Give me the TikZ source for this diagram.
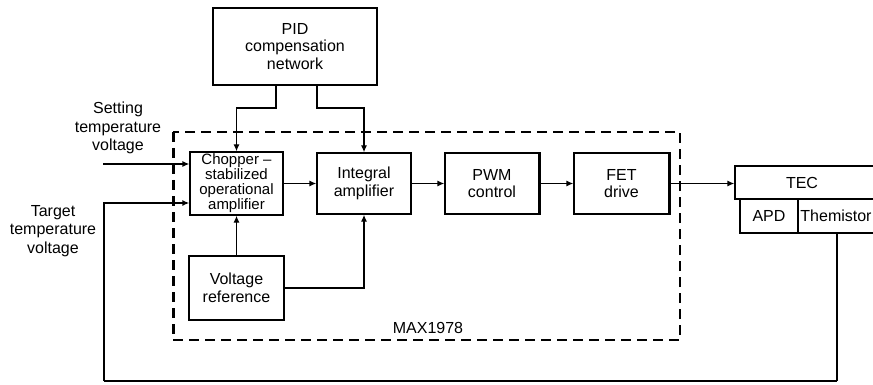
\documentclass[tikz,border=0pt]{standalone}
\usepackage{fontspec}
\setmainfont{Liberation Sans}
\usetikzlibrary{arrows.meta}
\begin{document}
\begin{tikzpicture}[x=1pt,y=-1pt,
  blk/.style={draw, line width=1.3pt, align=center, inner sep=0pt, font=\fontsize{16}{17.5}\selectfont},
  lbl/.style={align=center, inner sep=0pt, font=\fontsize{16}{18.5}\selectfont},
  arr/.style={line width=1.3pt, -{Latex[length=7pt,width=6pt]}},
  wire/.style={line width=1.3pt},
  thick wire/.style={line width=2.4pt},
  dashbox/.style={line width=2pt, dash pattern=on 10pt off 6pt}
]
\useasboundingbox (0,0) rectangle (873,385);
\clip (0,0) rectangle (873,385);
% blocks
\node[blk, minimum width=164pt, minimum height=77pt] (pid) at (295,46.5) {PID\\compensation\\network};
\node[blk, minimum width=93pt, minimum height=63pt, font=\fontsize{15}{15}\selectfont] (chop) at (236.5,183.5) {Chopper –\\stabilized\\operational\\amplifier};
\node[blk, minimum width=94pt, minimum height=61pt] (integ) at (364,183.5) {Integral\\amplifier};
\node[blk, minimum width=94pt, minimum height=61pt] (pwm) at (492,183.5) {PWM\\control};
\node[blk, minimum width=95pt, minimum height=61pt] (fet) at (621.5,183.5) {FET\\drive};
\node[blk, line width=2.4pt, minimum width=95pt, minimum height=64pt] (vref) at (236.5,288) {Voltage\\reference};
\draw[line width=2.4pt] (pwm.north east) -- (pwm.south east);
\draw[line width=2.4pt] (fet.north east) -- (fet.south east);
\node[blk, minimum width=142pt, minimum height=33pt] (tec) at (806,182.5) {};
\node[lbl] (teclbl) at (802,182.5) {TEC};
\node[blk, minimum width=58pt, minimum height=34pt] (apd) at (769,216) {APD};
\node[blk, minimum width=79pt, minimum height=34pt] (therm) at (837.5,216) {};
\node[lbl] (thermlbl) at (836,216) {Themistor};
% dashed MAX1978 box
\coordinate (dA) at (173,132);
\coordinate (dB) at (680,340);
\draw[dashbox] (dA) rectangle (dB);
\draw[dashbox, line width=3pt] (dA) -- (dA |- dB);
\node[lbl] (max) at (428,328) {MAX1978};
% outside labels
\node[lbl] (setlbl) at (118,128) {Setting\\temperature\\voltage};
\node[lbl] (tgtlbl) at (53,231) {Target\\temperature\\voltage};
% PID connections
\coordinate (p1) at (276,85);
\coordinate (p2) at (317,85);
\draw[arr] (p1) -- (276,108) -| (chop.north);
\draw[arr] (p2) -- (317,108) -| (integ.north);
% setting input
\coordinate (sIn) at (103,164);
\draw[arr] (sIn) -- (sIn -| chop.west);
% target input (thick)
\coordinate (tIn) at (104,203);
\coordinate (tBot) at (104,381);
\coordinate (rBot) at (837,381);
\draw[thick wire, -{Latex[length=7pt,width=6pt]}] (tBot) -- (tIn) -- (tIn -| chop.west);
\draw[thick wire] (tBot) -- (rBot);
\draw[wire] (rBot) -- (rBot |- therm.south);
% main chain
\draw[arr] (chop.east) -- (integ.west);
\draw[arr] (integ.east) -- (pwm.west);
\draw[arr] (pwm.east) -- (fet.west);
\draw[arr] (fet.east) -- (fet.east -| tec.west);
% voltage reference
\draw[arr] (vref.north) -- (chop.south);
\draw[arr] (vref.east) -| (integ.south);
\end{tikzpicture}
\end{document}
